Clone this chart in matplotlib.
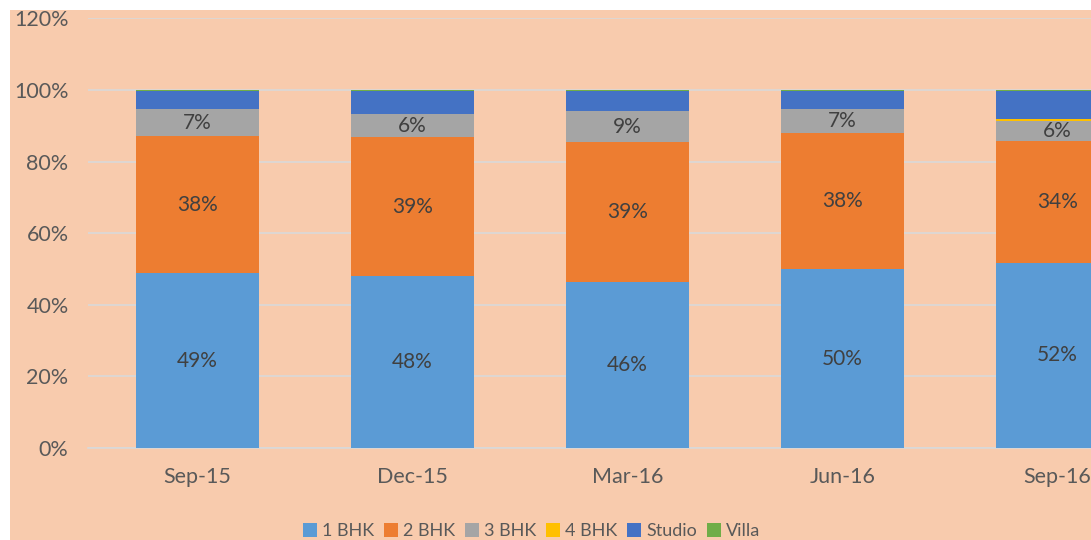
import matplotlib
matplotlib.use("Agg")
import matplotlib.pyplot as plt
from matplotlib.patches import Rectangle
import numpy as np

plt.rcParams['font.family'] = ['Lato', 'DejaVu Sans']

# quarters and share of each unit type (%)
quarters = ["Sep-15", "Dec-15", "Mar-16", "Jun-16", "Sep-16"]
bhk1 = [48.8, 48.0, 46.4, 49.9, 51.7]
bhk2 = [38.4, 38.8, 39.1, 38.0, 34.0]
bhk3 = [7.4, 6.4, 8.6, 6.8, 5.7]
bhk4 = [0.1, 0.1, 0.0, 0.0, 0.4]
studio = [5.0, 6.4, 5.7, 5.0, 7.9]
villa = [0.3, 0.3, 0.2, 0.3, 0.3]

series = [
    ("1 BHK", bhk1, "#5B9BD5", True),
    ("2 BHK", bhk2, "#ED7D31", True),
    ("3 BHK", bhk3, "#A5A5A5", True),
    ("4 BHK", bhk4, "#FFC000", False),
    ("Studio", studio, "#4472C4", False),
    ("Villa", villa, "#70AD47", False),
]

BG = "#F8CBAD"
GRID = "#D9D9D9"
TXT = "#595959"

fig = plt.figure(figsize=(10.91, 5.40), dpi=100, facecolor="white")
fig.patches.append(Rectangle((10 / 1091, 0), 1, 530 / 540, transform=fig.transFigure,
                             facecolor=BG, edgecolor="none", zorder=-5))

ax = fig.add_axes([88 / 1091, 92 / 540, 1075 / 1091, 429.6 / 540])
ax.set_facecolor(BG)

x = np.arange(len(quarters))
width = 0.572
bottom = np.zeros(len(quarters))
for name, vals, color, show in series:
    vals = np.array(vals)
    ax.bar(x, vals, width, bottom=bottom, color=color, label=name,
           linewidth=0, zorder=3)
    if show:
        for xi, b, v in zip(x, bottom, vals):
            ax.text(xi, b + v / 2, f"{v:.0f}%", ha="center", va="center",
                    fontsize=15, color="#404040", zorder=4)
    bottom += vals

ax.set_xlim(-0.51, 4.49)
ax.set_ylim(0, 120)
ax.set_yticks(range(0, 121, 20))
ax.set_yticklabels([f"{v}%" for v in range(0, 121, 20)])
ax.set_xticks(x)
ax.set_xticklabels(quarters)
ax.yaxis.grid(True, color=GRID, linewidth=1.2, zorder=0)
ax.set_axisbelow(True)
for s in ["top", "right", "left"]:
    ax.spines[s].set_visible(False)
ax.spines["bottom"].set_color(GRID)
ax.spines["bottom"].set_linewidth(1.2)
ax.tick_params(axis="y", length=0, pad=14, labelsize=15.5, labelcolor=TXT)
ax.tick_params(axis="x", length=0, pad=14, labelsize=15.5, labelcolor=TXT)

handles, labels = ax.get_legend_handles_labels()
fig.legend(handles, labels, loc="center", bbox_to_anchor=(0.487, 0.017), ncol=6,
           frameon=False, fontsize=13, labelcolor=TXT, handlelength=0.8,
           handleheight=0.8, handletextpad=0.25, columnspacing=0.55,
           borderpad=0.1)

fig.savefig("out.png", dpi=100, facecolor="white")
